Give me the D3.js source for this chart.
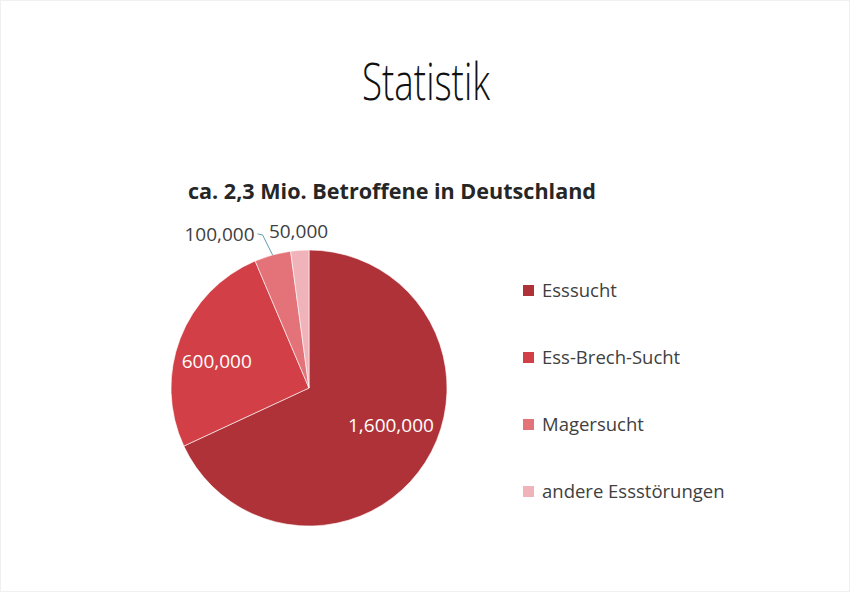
<html>
<head>
<meta charset="utf-8">
<script src="https://d3js.org/d3.v7.min.js"></script>
<style>
  body { margin: 0; background: #fff; }
  text { font-family: "Open Sans", "Noto Sans", sans-serif; }
</style>
</head>
<body>
<div id="chart"></div>
<script>
// data
var categories = ["Esssucht", "Ess-Brech-Sucht", "Magersucht", "andere Essstörungen"];
var values = [1600000, 600000, 100000, 50000];
var valueLabels = ["1,600,000", "600,000", "100,000", "50,000"];
var colors = ["#b03239", "#d23f47", "#e37379", "#efb3b9"];

var w = 850, h = 592;
var cx = 309, cy = 388, r = 138;

var svg = d3.select("#chart").append("svg").attr("width", w).attr("height", h);

// slide frame
svg.append("rect").attr("x", 0.5).attr("y", 0.5).attr("width", w - 1).attr("height", h - 1)
  .attr("fill", "#fff").attr("stroke", "#f0f0f0");

// headings
svg.append("text").text("Statistik")
  .attr("x", 426).attr("y", 100).attr("text-anchor", "middle")
  .attr("font-size", 52).attr("font-weight", 300).attr("fill", "#111")
  .attr("textLength", 128).attr("lengthAdjust", "spacingAndGlyphs");

svg.append("text").text("ca. 2,3 Mio. Betroffene in Deutschland")
  .attr("x", 392).attr("y", 199).attr("text-anchor", "middle")
  .attr("font-size", 21).attr("font-weight", 700).attr("fill", "#262626")
  .attr("textLength", 408).attr("lengthAdjust", "spacingAndGlyphs");

// pie
var pie = d3.pie().sort(null).value(function(d){ return d; });
var arcs = pie(values);
var arc = d3.arc().innerRadius(0).outerRadius(r);

var g = svg.append("g").attr("transform", "translate(" + cx + "," + cy + ")");

g.selectAll("path").data(arcs).enter().append("path")
  .attr("d", arc)
  .attr("fill", function(d, i){ return colors[i]; })
  .attr("stroke", "#fff").attr("stroke-width", 0.6);

function mid(d) { return (d.startAngle + d.endAngle) / 2; }
function polar(a, rad) { return [Math.sin(a) * rad, -Math.cos(a) * rad]; }

// inside labels (white)
var innerArc = d3.arc().innerRadius(r * 0.67).outerRadius(r * 0.67);
var nudge = [[4, -12], [-6, 7]];
arcs.slice(0, 2).forEach(function(d, i){
  var c = innerArc.centroid(d);
  g.append("text").text(valueLabels[i])
    .attr("x", c[0] + nudge[i][0]).attr("y", c[1] + nudge[i][1])
    .attr("dy", "0.35em").attr("text-anchor", "middle")
    .attr("font-size", 19).attr("fill", "#fff");
});

// outside labels
var a3 = mid(arcs[2]);
var p0 = polar(a3, r), p1 = [p0[0] - 10, p0[1] - 20], p2 = [p1[0] - 5, p1[1] - 1];
g.append("polyline")
  .attr("points", [p0, p1, p2].map(function(p){ return p.join(","); }).join(" "))
  .attr("fill", "none").attr("stroke", "#5f9eab").attr("stroke-width", 1);
g.append("text").text(valueLabels[2])
  .attr("x", p2[0] - 3).attr("y", p2[1]).attr("dy", "0.35em")
  .attr("text-anchor", "end").attr("font-size", 19).attr("fill", "#404040");

var p4 = polar(mid(arcs[3]), r + 19);
g.append("text").text(valueLabels[3])
  .attr("x", p4[0]).attr("y", p4[1]).attr("dy", "0.35em")
  .attr("text-anchor", "middle").attr("font-size", 19).attr("fill", "#404040");

// legend
var legendY = d3.scalePoint().domain(categories).range([290.5, 491.5]);
var lg = svg.append("g").selectAll("g").data(categories).enter().append("g")
  .attr("transform", function(d){ return "translate(523," + legendY(d) + ")"; });
lg.append("rect").attr("x", 0).attr("y", -5.5).attr("width", 11).attr("height", 11)
  .attr("fill", function(d, i){ return colors[i]; });
lg.append("text").text(function(d){ return d; })
  .attr("x", 19).attr("dy", "0.35em").attr("font-size", 18.5).attr("fill", "#404040");
</script>
</body>
</html>
